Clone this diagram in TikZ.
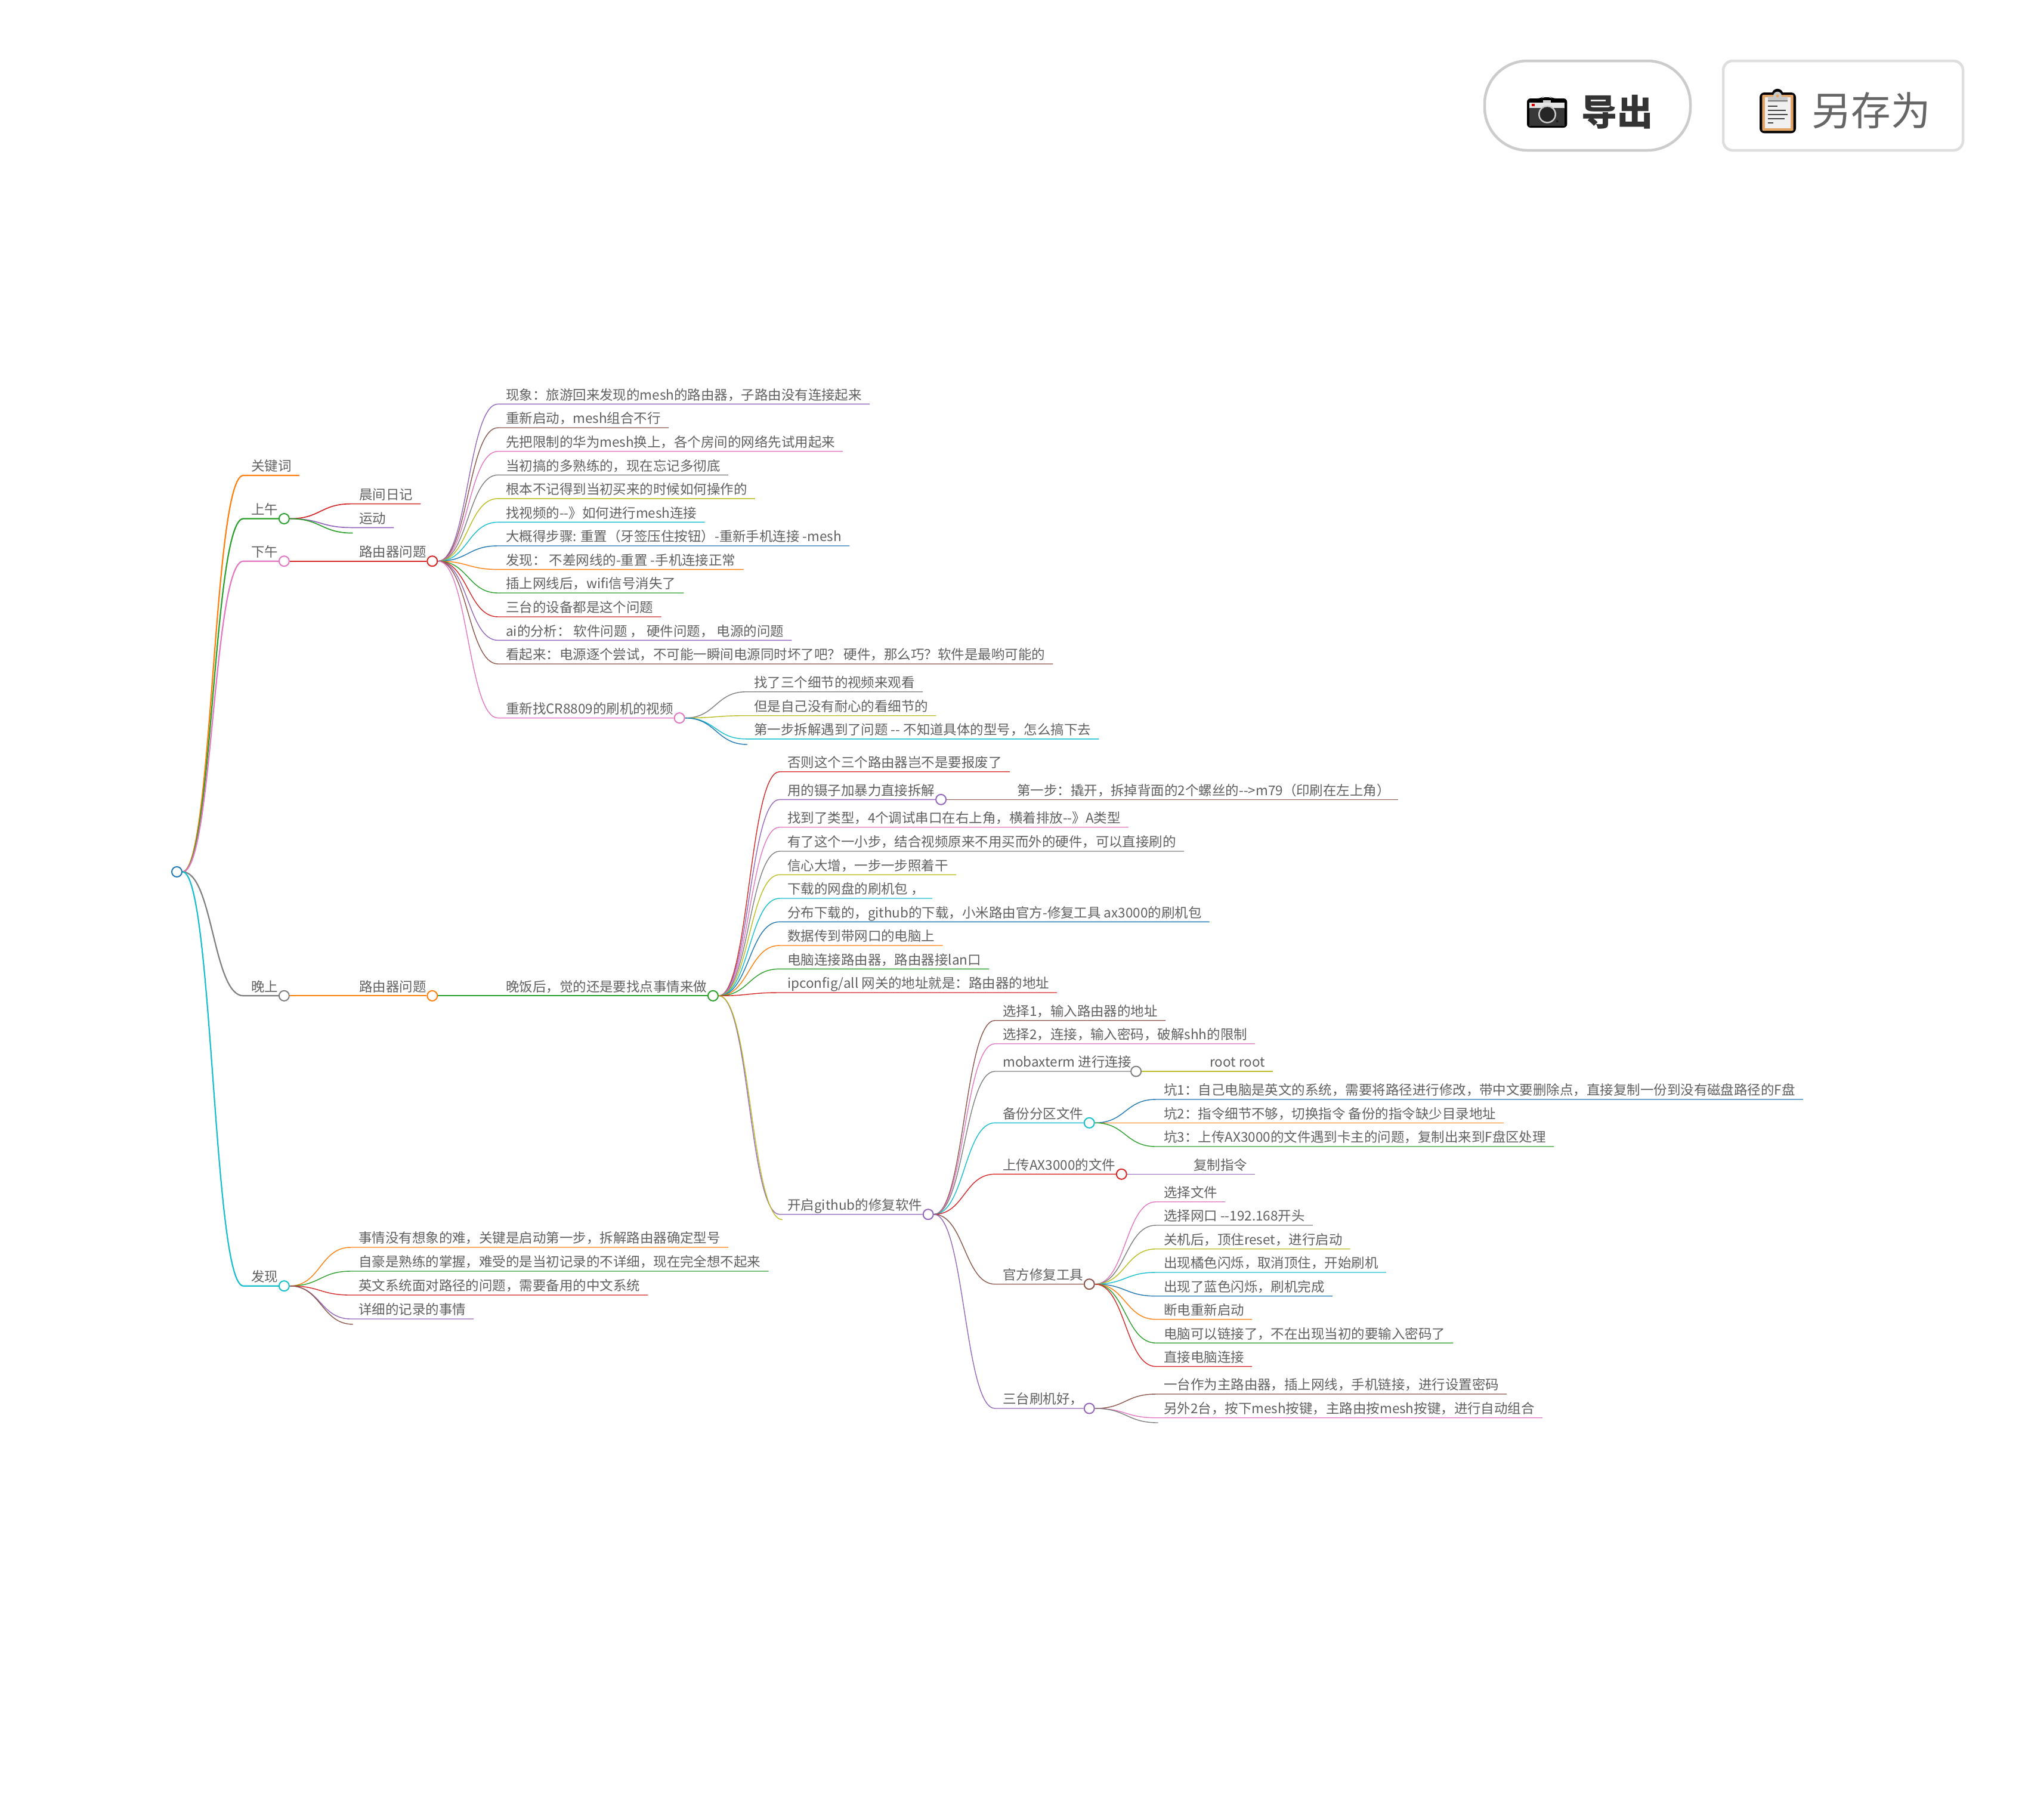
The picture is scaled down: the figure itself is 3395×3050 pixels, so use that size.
\documentclass[tikz,border=0pt]{standalone}
\usepackage{fontspec}
\setmainfont{Noto Sans CJK SC}
\usepackage{xcolor}
\usetikzlibrary{calc}
\definecolor{cblue}{HTML}{1F77B4}
\definecolor{corange}{HTML}{FF7F0E}
\definecolor{cgreen}{HTML}{2CA02C}
\definecolor{cred}{HTML}{D62728}
\definecolor{cpurple}{HTML}{9467BD}
\definecolor{cbrown}{HTML}{8C564B}
\definecolor{cpink}{HTML}{E377C2}
\definecolor{cgray}{HTML}{7F7F7F}
\definecolor{colive}{HTML}{BCBD22}
\definecolor{ccyan}{HTML}{17BECF}
\definecolor{labelgray}{HTML}{606060}

\begin{document}
\begin{tikzpicture}[
  x=1pt, y=-1pt,
  lbl/.style={anchor=south west, inner xsep=13pt, inner ysep=2pt, text height=18pt, text depth=5pt,
    text=labelgray, font=\fontsize{22.47}{26}\selectfont},
  dot/.style={circle, draw, fill=white, line width=2pt, minimum size=17pt, inner sep=0pt, xshift=-3pt},
  link/.style={line width=1.4pt, to path={let \p1=(\tikztostart), \p2=(\tikztotarget) in
    .. controls ({0.5*(\x1+\x2)},\y1) and ({0.5*(\x1+\x2)},\y2) .. (\p2)}},
  wa/.style={line width=2.2pt},
  wb/.style={line width=1.7pt},
  btn/.style={draw, line width=4.5pt, fill=white, minimum height=150pt}
]
\useasboundingbox (0,0) rectangle (3395,3050);

\node[btn, draw=black!20, rounded corners=72pt, minimum width=345pt] (expbtn) at (2661.5,177) {};
\node[btn, draw=black!13, rounded corners=16pt, minimum width=402pt] (savebtn) at (3090,177) {};
\node[text=black!80, font=\fontsize{60}{63}\selectfont\bfseries, inner sep=0pt] (exptxt) at (2711,188) {导出};
\node[text=black!60, font=\fontsize{66.5}{70}\selectfont, inner sep=0pt] (savetxt) at (3137,185) {另存为};

\fill[black, rounded corners=6pt] (2560,165) -- (2583,165) -- (2586,163) -- (2600,163) -- (2603,165) -- (2627.3,165) -- (2627.3,214) -- (2560,214) -- cycle;
\fill[black!10] (2564,171.7) rectangle (2623,181);
\fill[black!78] (2564,181) rectangle (2623,210.7);
\fill[black!20] (2587,168) rectangle (2600,172);
\fill[red!85!black] (2568,173.7) rectangle (2572.6,178.3);
\fill[black!20] (2594,191.7) circle (15pt);
\fill[black!85] (2594,191.7) circle (12.5pt);
\fill[black!90] (2610.7,203.3) circle (2pt);

\fill[black] (2980,158.3) circle (9.5pt);
\fill[black, rounded corners=8pt] (2950,155) rectangle (3011,223.3);
\fill[brown!60!orange!70, rounded corners=2pt] (2954.3,159) rectangle (3006.7,219.3);
\fill[black!6] (2959,163) rectangle (3001.7,215);
\fill[black!22] (2964,161.7) rectangle (2996.7,170.7);
\fill[black!22] (2980,160.7) circle (7pt);
\fill[brown!60!orange!70] (2980,160.7) circle (2.5pt);
\fill[black!50] (2964,167.8) rectangle (2996.7,170.2);
\fill[black!75] (2964,177) rectangle (2980,179.4);
\fill[black!75] (2964,184) rectangle (2994.3,186.4);
\fill[black!75] (2964,191) rectangle (2996.7,193.4);
\fill[black!75] (2964,198) rectangle (2991.7,200.4);
\fill[black!75] (2964,205) rectangle (2973.3,207.4);

\node[dot, draw=cblue, xshift=3pt] (root) at (296.5,1461.5) {};

\node[lbl] (kw) at (408,797) {关键词};
\node[lbl] (am) at (408,869.5) {上午};
\node[dot, draw=cgreen] (amd) at (am.south east) {};
\node[lbl] (diary) at (589,844.6) {晨间日记};
\node[lbl] (sport) at (589,884.4) {运动};
\coordinate (amstub) at (591.5,893.6);
\node[lbl] (pm) at (408,940.7) {下午};
\node[dot, draw=cpink] (pmd) at (pm.south east) {};
\node[lbl] (rta) at (589,940.7) {路由器问题};
\node[dot, draw=cred] (rtad) at (rta.south east) {};
\node[lbl] (a1) at (835,677.3) {现象：旅游回来发现的mesh的路由器，子路由没有连接起来};
\node[lbl] (a2) at (835,717) {重新启动，mesh组合不行};
\node[lbl] (a3) at (835,756.6) {先把限制的华为mesh换上，各个房间的网络先试用起来};
\node[lbl] (a4) at (835,796.2) {当初搞的多熟练的，现在忘记多彻底};
\node[lbl] (a5) at (835,835.8) {根本不记得到当初买来的时候如何操作的};
\node[lbl] (a6) at (835,875.4) {找视频的-{}-》如何进行mesh连接};
\node[lbl] (a7) at (835,915) {大概得步骤: 重置（牙签压住按钮）-重新手机连接 -mesh};
\node[lbl] (a8) at (835,954.6) {发现： 不差网线的-重置 -手机连接正常};
\node[lbl] (a9) at (835,994) {插上网线后，wifi信号消失了};
\node[lbl] (a10) at (835,1034) {三台的设备都是这个问题};
\node[lbl] (a11) at (835,1073.4) {ai的分析： 软件问题 ， 硬件问题， 电源的问题};
\node[lbl] (a12) at (835,1113) {看起来：电源逐个尝试，不可能一瞬间电源同时坏了吧？ 硬件，那么巧？软件是最哟可能的};
\node[lbl] (a13) at (835,1203.6) {重新找CR8809的刷机的视频};
\node[dot, draw=cpink] (a13d) at (a13.south east) {};
\node[lbl] (v1) at (1251,1159.7) {找了三个细节的视频来观看};
\node[lbl] (v2) at (1251,1199.7) {但是自己没有耐心的看细节的};
\node[lbl] (v3) at (1251,1238.8) {第一步拆解遇到了问题 -{}- 不知道具体的型号，怎么搞下去};
\coordinate (vstub) at (1253,1248);

\node[lbl] (eve) at (408,1669.3) {晚上};
\node[dot, draw=cgray] (eved) at (eve.south east) {};
\node[lbl] (rtb) at (589,1669.3) {路由器问题};
\node[dot, draw=corange] (rtbd) at (rtb.south east) {};
\node[lbl] (din) at (835,1669.3) {晚饭后，觉的还是要找点事情来做};
\node[dot, draw=cgreen] (dind) at (din.south east) {};
\node[lbl] (b1) at (1307,1293.7) {否则这个三个路由器岂不是要报废了};
\node[lbl] (b2) at (1307,1340.3) {用的镊子加暴力直接拆解};
\node[dot, draw=cpurple] (b2d) at (b2.south east) {};
\node[lbl] (b2a) at (1692,1340.3) {第一步：撬开，拆掉背面的2个螺丝的-{}->m79（印刷在左上角）};
\node[lbl] (b3) at (1307,1386.7) {找到了类型，4个调试串口在右上角，横着排放-{}-》A类型};
\node[lbl] (b4) at (1307,1427) {有了这个一小步，结合视频原来不用买而外的硬件，可以直接刷的};
\node[lbl] (b5) at (1307,1466.3) {信心大增，一步一步照着干};
\node[lbl] (b6) at (1307,1506) {下载的网盘的刷机包 ，};
\node[lbl] (b7) at (1307,1545.3) {分布下载的，github的下载，小米路由官方-修复工具 ax3000的刷机包};
\node[lbl] (b8) at (1307,1585) {数据传到带网口的电脑上};
\node[lbl] (b9) at (1307,1624.3) {电脑连接路由器，路由器接lan口};
\node[lbl] (b10) at (1307,1664) {ipconfig/all 网关的地址就是：路由器的地址};
\node[lbl] (gh) at (1307,2035.7) {开启github的修复软件};
\node[dot, draw=cpurple] (ghd) at (gh.south east) {};
\coordinate (ghstub) at (1312,2044.7);

\node[lbl] (c1) at (1668,1710.7) {选择1，输入路由器的地址};
\node[lbl] (c2) at (1668,1749.7) {选择2，连接，输入密码，破解shh的限制};
\node[lbl] (c3) at (1668,1796) {mobaxterm 进行连接};
\node[dot, draw=cgray, xshift=-3pt] (c3d) at (c3.south east) {};
\node[lbl] (c3a) at (2015,1796) {root root};
\node[lbl] (bak) at (1668,1882.3) {备份分区文件};
\node[dot, draw=ccyan] (bakd) at (bak.south east) {};
\node[lbl] (p1) at (1938,1843) {坑1：自己电脑是英文的系统，需要将路径进行修改，带中文要删除点，直接复制一份到没有磁盘路径的F盘};
\node[lbl] (p2) at (1938,1882.3) {坑2：指令细节不够，切换指令 备份的指令缺少目录地址};
\node[lbl] (p3) at (1938,1922) {坑3：上传AX3000的文件遇到卡主的问题，复制出来到F盘区处理};
\node[lbl] (up) at (1668,1968.3) {上传AX3000的文件};
\node[dot, draw=cred] (upd) at (up.south east) {};
\node[lbl] (upa) at (1988,1968.3) {复制指令};
\node[lbl] (off) at (1668,2152.7) {官方修复工具};
\node[dot, draw=cbrown] (offd) at (off.south east) {};
\node[lbl] (o1) at (1938,2014.7) {选择文件};
\node[lbl] (o2) at (1938,2054) {选择网口 -{}-192.168开头};
\node[lbl] (o3) at (1938,2093.7) {关机后，顶住reset，进行启动};
\node[lbl] (o4) at (1938,2133) {出现橘色闪烁，取消顶住，开始刷机};
\node[lbl] (o5) at (1938,2172.7) {出现了蓝色闪烁，刷机完成};
\node[lbl] (o6) at (1938,2211.7) {断电重新启动};
\node[lbl] (o7) at (1938,2251.3) {电脑可以链接了，不在出现当初的要输入密码了};
\node[lbl] (o8) at (1938,2290.7) {直接电脑连接};
\node[lbl] (three) at (1668,2361) {三台刷机好，};
\node[dot, draw=cpurple] (threed) at (three.south east) {};
\node[lbl] (t1) at (1938,2337) {一台作为主路由器，插上网线，手机链接，进行设置密码};
\node[lbl] (t2) at (1938,2376.7) {另外2台，按下mesh按键，主路由按mesh按键，进行自动组合};
\coordinate (tstub) at (1941.7,2385);

\node[lbl] (find) at (408,2155.7) {发现};
\node[dot, draw=ccyan] (findd) at (find.south east) {};
\node[lbl] (f1) at (588,2091) {事情没有想象的难，关键是启动第一步，拆解路由器确定型号};
\node[lbl] (f2) at (588,2131) {自豪是熟练的掌握，难受的是当初记录的不详细，现在完全想不起来};
\node[lbl] (f3) at (588,2171) {英文系统面对路径的问题，需要备用的中文系统};
\node[lbl] (f4) at (588,2211) {详细的记录的事情};
\coordinate (fstub) at (592,2220);

\draw[link, wa, corange] (root.east) to (kw.south west) -- (kw.south east);
\draw[link, wa, cgreen] (root.east) to (am.south west) -- (amd.west);
\draw[link, wa, cpink] (root.east) to (pm.south west) -- (pmd.west);
\draw[link, wa, cgray] (root.east) to (eve.south west) -- (eved.west);
\draw[link, wa, ccyan] (root.east) to (find.south west) -- (findd.west);

\draw[link, wb, cred] (amd.east) to (diary.south west) -- (diary.south east);
\draw[link, wb, cpurple] (amd.east) to (sport.south west) -- (sport.south east);
\draw[link, wb, cgreen] (amd.east) to (amstub);
\draw[link, wb, cred] (pmd.east) to (rta.south west) -- (rtad.west);

\draw[link, cpurple] (rtad.east) to (a1.south west) -- (a1.south east);
\draw[link, cbrown] (rtad.east) to (a2.south west) -- (a2.south east);
\draw[link, cpink] (rtad.east) to (a3.south west) -- (a3.south east);
\draw[link, cgray] (rtad.east) to (a4.south west) -- (a4.south east);
\draw[link, colive] (rtad.east) to (a5.south west) -- (a5.south east);
\draw[link, ccyan] (rtad.east) to (a6.south west) -- (a6.south east);
\draw[link, cblue] (rtad.east) to (a7.south west) -- (a7.south east);
\draw[link, corange] (rtad.east) to (a8.south west) -- (a8.south east);
\draw[link, cgreen] (rtad.east) to (a9.south west) -- (a9.south east);
\draw[link, cred] (rtad.east) to (a10.south west) -- (a10.south east);
\draw[link, cpurple] (rtad.east) to (a11.south west) -- (a11.south east);
\draw[link, cbrown] (rtad.east) to (a12.south west) -- (a12.south east);
\draw[link, cpink] (rtad.east) to (a13.south west) -- (a13d.west);
\draw[link, cgray] (a13d.east) to (v1.south west) -- (v1.south east);
\draw[link, colive] (a13d.east) to (v2.south west) -- (v2.south east);
\draw[link, ccyan] (a13d.east) to (v3.south west) -- (v3.south east);
\draw[link, cblue] (a13d.east) to (vstub);

\draw[link, wb, corange] (eved.east) to (rtb.south west) -- (rtbd.west);
\draw[link, wb, cgreen] (rtbd.east) to (din.south west) -- (dind.west);
\draw[link, cred] (dind.east) to (b1.south west) -- (b1.south east);
\draw[link, cpurple] (dind.east) to (b2.south west) -- (b2d.west);
\draw[link, cbrown] (b2d.east) to (b2a.south west) -- (b2a.south east);
\draw[link, cpink] (dind.east) to (b3.south west) -- (b3.south east);
\draw[link, cgray] (dind.east) to (b4.south west) -- (b4.south east);
\draw[link, colive] (dind.east) to (b5.south west) -- (b5.south east);
\draw[link, ccyan] (dind.east) to (b6.south west) -- (b6.south east);
\draw[link, cblue] (dind.east) to (b7.south west) -- (b7.south east);
\draw[link, corange] (dind.east) to (b8.south west) -- (b8.south east);
\draw[link, cgreen] (dind.east) to (b9.south west) -- (b9.south east);
\draw[link, cred] (dind.east) to (b10.south west) -- (b10.south east);
\draw[link, cpurple] (dind.east) to (gh.south west) -- (ghd.west);
\draw[link, colive] (dind.east) to (ghstub);

\draw[link, cbrown] (ghd.east) to (c1.south west) -- (c1.south east);
\draw[link, cpink] (ghd.east) to (c2.south west) -- (c2.south east);
\draw[link, cgray] (ghd.east) to (c3.south west) -- (c3d.west);
\draw[link, colive] (c3d.east) to (c3a.south west) -- (c3a.south east);
\draw[link, ccyan] (ghd.east) to (bak.south west) -- (bakd.west);
\draw[link, cblue] (bakd.east) to (p1.south west) -- (p1.south east);
\draw[link, corange] (bakd.east) to (p2.south west) -- (p2.south east);
\draw[link, cgreen] (bakd.east) to (p3.south west) -- (p3.south east);
\draw[link, cred] (ghd.east) to (up.south west) -- (upd.west);
\draw[link, cpurple] (upd.east) to (upa.south west) -- (upa.south east);
\draw[link, cbrown] (ghd.east) to (off.south west) -- (offd.west);
\draw[link, cpink] (offd.east) to (o1.south west) -- (o1.south east);
\draw[link, cgray] (offd.east) to (o2.south west) -- (o2.south east);
\draw[link, colive] (offd.east) to (o3.south west) -- (o3.south east);
\draw[link, ccyan] (offd.east) to (o4.south west) -- (o4.south east);
\draw[link, cblue] (offd.east) to (o5.south west) -- (o5.south east);
\draw[link, corange] (offd.east) to (o6.south west) -- (o6.south east);
\draw[link, cgreen] (offd.east) to (o7.south west) -- (o7.south east);
\draw[link, cred] (offd.east) to (o8.south west) -- (o8.south east);
\draw[link, cpurple] (ghd.east) to (three.south west) -- (threed.west);
\draw[link, cbrown] (threed.east) to (t1.south west) -- (t1.south east);
\draw[link, cpink] (threed.east) to (t2.south west) -- (t2.south east);
\draw[link, cgray] (threed.east) to (tstub);

\draw[link, corange] (findd.east) to (f1.south west) -- (f1.south east);
\draw[link, cgreen] (findd.east) to (f2.south west) -- (f2.south east);
\draw[link, cred] (findd.east) to (f3.south west) -- (f3.south east);
\draw[link, cpurple] (findd.east) to (f4.south west) -- (f4.south east);
\draw[link, cbrown] (findd.east) to (fstub);
\end{tikzpicture}
\end{document}
